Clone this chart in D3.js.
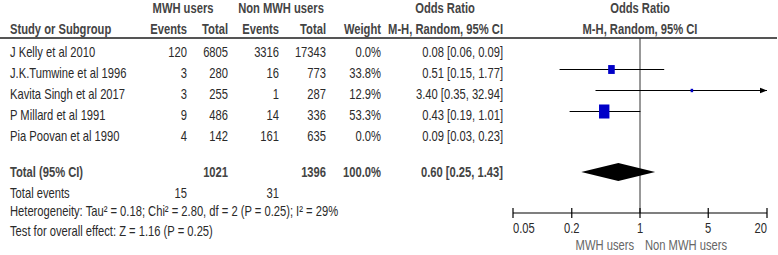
<!DOCTYPE html>
<html>
<head>
<meta charset="UTF-8">
<script src="https://d3js.org/d3.v7.min.js"></script>
<style>
  * { margin: 0; padding: 0; box-sizing: border-box; }
  body { background: #fff; }
  svg text { font-family: "Liberation Sans", Arial, sans-serif; font-size: 14px; fill: #2a2a2a; }
  .hd { font-weight: bold; fill: #444; }
</style>
</head>
<body>
<div id="chart"></div>
<script>
  // data
  const studies   = ["J Kelly et al 2010", "J.K.Tumwine et al 1996", "Kavita Singh et al 2017", "P Millard et al 1991", "Pia Poovan et al 1990"];
  const mwhEvents = [120, 3, 3, 9, 4];
  const mwhTotal  = [6805, 280, 255, 486, 142];
  const nonEvents = [3316, 16, 1, 14, 161];
  const nonTotal  = [17343, 773, 287, 336, 635];
  const weights   = [0.0, 33.8, 12.9, 53.3, 0.0];
  const orVals    = [0.08, 0.51, 3.40, 0.43, 0.09];
  const ciLow     = [0.06, 0.15, 0.35, 0.19, 0.03];
  const ciHigh    = [0.09, 1.77, 32.94, 1.01, 0.23];
  const pooled    = {or: 0.60, lo: 0.25, hi: 1.43};
  const totals    = {mwhTotal: 1021, nonTotal: 1396, mwhEvents: 15, nonEvents: 31};
  const tickValues = [0.05, 0.2, 1, 5, 20];

  const W = 778, H = 255;
  const SX = 0.8; // the original figure is squeezed horizontally
  const svg = d3.select("#chart").append("svg").attr("width", W).attr("height", H);

  const x = d3.scaleLog().domain([0.05, 20]).range([513, 767]);
  const rowY = d3.scalePoint().domain(studies).range([48.5, 132.5]);
  const sqH = d3.scaleLinear().domain([0, 100]).range([0, 26.3]);
  const sqW = d3.scaleLinear().domain([0, 100]).range([0, 19.5]);

  const cols = {study: 10, ev1: 187, tot1: 228, ev2: 279, tot2: 326, wt: 381, or: 503};
  const fmtPct = d => d.toFixed(1) + "%";
  const fmtOR = (o, l, h) => `${o.toFixed(2)} [${l.toFixed(2)}, ${h.toFixed(2)}]`;

  function txt(xp, yp, s, anchor, cls, col) {
    const t = svg.append("text")
      .attr("transform", `translate(${xp},${yp}) scale(${SX},1)`)
      .attr("text-anchor", anchor || "start").attr("class", cls || null).text(s);
    if (col) t.style("fill", col);
    return t;
  }

  // headers
  txt(183, 13, "MWH users", "middle", "hd");
  txt(281, 13, "Non MWH users", "middle", "hd");
  txt(445, 13, "Odds Ratio", "middle", "hd");
  txt(x(1), 13, "Odds Ratio", "middle", "hd");
  txt(cols.study, 34, "Study or Subgroup", "start", "hd");
  txt(cols.ev1, 34, "Events", "end", "hd");
  txt(cols.tot1, 34, "Total", "end", "hd");
  txt(cols.ev2, 34, "Events", "end", "hd");
  txt(cols.tot2, 34, "Total", "end", "hd");
  txt(cols.wt, 34, "Weight", "end", "hd");
  txt(cols.or, 34, "M-H, Random, 95% CI", "end", "hd");
  txt(x(1), 34, "M-H, Random, 95% CI", "middle", "hd");

  svg.append("line").attr("x1", 0).attr("x2", 777).attr("y1", 38).attr("y2", 38)
     .attr("stroke", "#555").attr("stroke-width", 2);

  // study rows
  studies.forEach((s, i) => {
    const yb = rowY(s) + 8;
    txt(cols.study, yb, s);
    txt(cols.ev1, yb, mwhEvents[i], "end");
    txt(cols.tot1, yb, mwhTotal[i], "end");
    txt(cols.ev2, yb, nonEvents[i], "end");
    txt(cols.tot2, yb, nonTotal[i], "end");
    txt(cols.wt, yb, fmtPct(weights[i]), "end");
    txt(cols.or, yb, fmtOR(orVals[i], ciLow[i], ciHigh[i]), "end");
  });

  // null line
  const axisY = 213;
  svg.append("line").attr("x1", x(1)).attr("x2", x(1)).attr("y1", 38).attr("y2", axisY)
     .attr("stroke", "#333").attr("stroke-width", 1);

  // arrow marker
  svg.append("defs").append("marker").attr("id", "arr")
     .attr("viewBox", "0 0 10 10").attr("refX", 10).attr("refY", 5)
     .attr("markerWidth", 6).attr("markerHeight", 6).attr("orient", "auto")
     .append("path").attr("d", "M0,1 L10,5 L0,9 Z").attr("fill", "#000");

  const idx = d3.range(studies.length).filter(i => weights[i] > 0);
  const [dMin, dMax] = x.domain();
  svg.selectAll(".ci").data(idx).enter().append("line")
     .attr("x1", i => x(Math.max(ciLow[i], dMin)))
     .attr("x2", i => x(Math.min(ciHigh[i], dMax)))
     .attr("y1", i => rowY(studies[i])).attr("y2", i => rowY(studies[i]))
     .attr("stroke", "#000").attr("stroke-width", 1.2)
     .attr("marker-end", i => ciHigh[i] > dMax ? "url(#arr)" : null);

  svg.selectAll(".sq").data(idx).enter().append("rect")
     .attr("x", i => x(orVals[i]) - sqW(weights[i]) / 2)
     .attr("y", i => rowY(studies[i]) - sqH(weights[i]) / 2)
     .attr("width", i => sqW(weights[i]))
     .attr("height", i => sqH(weights[i]))
     .attr("fill", "#0000c8");

  // total row
  const totY = 172;
  txt(cols.study, totY + 5, "Total (95% CI)", "start", "hd");
  txt(cols.tot1, totY + 5, totals.mwhTotal, "end", "hd");
  txt(cols.tot2, totY + 5, totals.nonTotal, "end", "hd");
  txt(cols.wt, totY + 5, "100.0%", "end", "hd");
  txt(cols.or, totY + 5, fmtOR(pooled.or, pooled.lo, pooled.hi), "end", "hd");

  svg.append("path")
     .attr("d", `M${x(pooled.lo)},${totY} L${x(pooled.or)},${totY - 9} L${x(pooled.hi)},${totY} L${x(pooled.or)},${totY + 9} Z`)
     .attr("fill", "#000");

  txt(cols.study, 198, "Total events");
  txt(cols.ev1, 198, totals.mwhEvents, "end");
  txt(cols.ev2, 198, totals.nonEvents, "end");
  txt(cols.study, 216, "Heterogeneity: Tau\u00b2 = 0.18; Chi\u00b2 = 2.80, df = 2 (P = 0.25); I\u00b2 = 29%");
  txt(cols.study, 236, "Test for overall effect: Z = 1.16 (P = 0.25)");

  // axis
  const ax = svg.append("g").attr("transform", `translate(0,${axisY})`);
  ax.append("line").attr("x1", x(dMin)).attr("x2", x(dMax)).attr("stroke", "#000").attr("stroke-width", 1.2);
  ax.selectAll(".tk").data(tickValues).enter().append("line")
    .attr("x1", d => x(d)).attr("x2", d => x(d)).attr("y1", -5).attr("y2", 5)
    .attr("stroke", "#000").attr("stroke-width", 1.2);
  tickValues.forEach((d, i) => {
    const anchor = i === 0 ? "start" : i === tickValues.length - 1 ? "end" : "middle";
    txt(x(d), axisY + 20, d, anchor);
  });

  txt(x(1) - 6, 250, "MWH users", "end", null, "#666");
  txt(x(1) + 5, 250, "Non MWH users", "start", null, "#666");
</script>
</body>
</html>
